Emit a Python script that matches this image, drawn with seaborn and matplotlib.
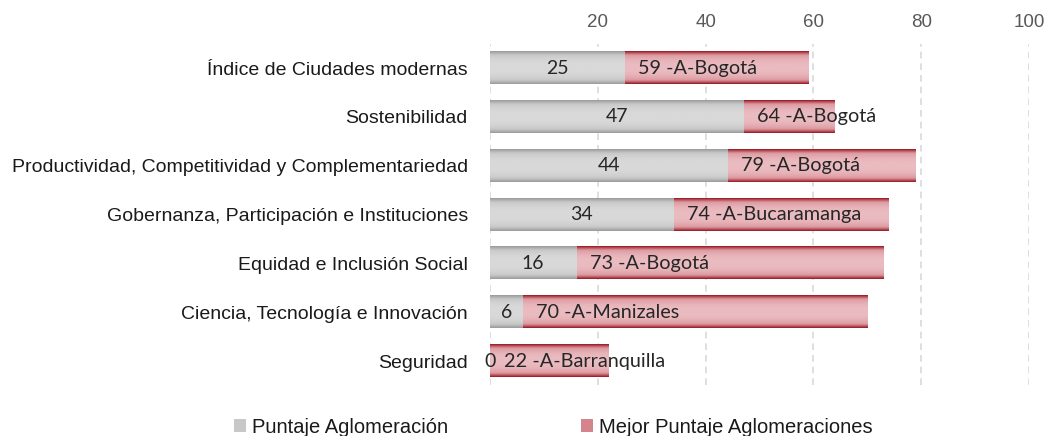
import numpy as np
import pandas as pd
import seaborn as sns
import matplotlib.pyplot as plt
from matplotlib.colors import LinearSegmentedColormap
from matplotlib.patches import Patch

categorias = [
    'Índice de Ciudades modernas',
    'Sostenibilidad',
    'Productividad, Competitividad y Complementariedad',
    'Gobernanza, Participación e Instituciones',
    'Equidad e Inclusión Social',
    'Ciencia, Tecnología e Innovación',
    'Seguridad',
]
puntaje = [25, 47, 44, 34, 16, 6, 0]
mejor = [59, 64, 79, 74, 73, 70, 22]
mejor_ciudad = ['Bogotá', 'Bogotá', 'Bogotá', 'Bucaramanga', 'Bogotá', 'Manizales', 'Barranquilla']
ticks = [0, 20, 40, 60, 80, 100]
tick_labels = ['', '20', '40', '60', '80', '100']

df = pd.DataFrame({'cat': categorias, 'puntaje': puntaje, 'mejor': mejor})

sns.set_style('white')
plt.rcParams['font.family'] = ['Liberation Sans', 'DejaVu Sans']

fig = plt.figure(figsize=(10.6, 4.36), dpi=100)
ax = fig.add_axes([0.4623, 0.116, 0.5085, 0.784])

# red bar goes from 0 to the best score, gray bar sits on top of it
sns.barplot(data=df, x='mejor', y='cat', color='#c0505a', orient='h', width=0.66, ax=ax)
sns.barplot(data=df, x='puntaje', y='cat', color='#c8c8c8', orient='h', width=0.66, ax=ax)

red_cmap = LinearSegmentedColormap.from_list('r', ['#eabbc0', '#dc9aa1', '#9a1821'])
gray_cmap = LinearSegmentedColormap.from_list('g', ['#d9d9d9', '#c9c9c9', '#9a9a9a'])
v = np.linspace(0, 1, 64)
prof = (np.abs(2 * v - 1) ** 2.5).reshape(-1, 1)

n = len(categorias)
for i, p in enumerate(ax.patches):
    x, y, w, h = p.get_x(), p.get_y(), p.get_width(), p.get_height()
    if w <= 0:
        continue
    cmap = red_cmap if i < n else gray_cmap
    p.set_facecolor('none')
    p.set_edgecolor('none')
    ax.imshow(prof, cmap=cmap, vmin=0, vmax=1, aspect='auto',
              extent=[x, x + w, y + h, y], zorder=2 + (i >= n), interpolation='bilinear')

ax.set_xlim(0, 100)
ax.set_ylim(n - 0.5, -0.5)

for i in range(n):
    ax.text(puntaje[i] / 2, i, str(puntaje[i]), ha='center', va='center',
            fontsize=14, family='Lato', color='#262626', zorder=5)
    ax.text(puntaje[i] + 2.5, i, f'{mejor[i]} -A-{mejor_ciudad[i]}', ha='left', va='center',
            fontsize=14.3, family='Lato', color='#262626', zorder=5)

ax.xaxis.tick_top()
ax.set_xticks(ticks)
ax.set_xticklabels(tick_labels)
ax.tick_params(axis='x', length=0, pad=9, labelsize=13.5, labelcolor='#595959')
ax.tick_params(axis='y', length=0, pad=16, labelsize=14, labelcolor='#1a1a1a')
ax.grid(axis='x', color='#d9d9d9', linestyle=(0, (4, 3)), linewidth=1.2)
ax.set_axisbelow(True)
ax.set_xlabel('')
ax.set_ylabel('')
for s in ax.spines.values():
    s.set_visible(False)

handles = [Patch(facecolor='#c8c8c8', edgecolor='none'),
           Patch(facecolor='#d4848d', edgecolor='none')]
fig.legend(handles, ['Puntaje Aglomeración', 'Mejor Puntaje Aglomeraciones'],
           loc='center', bbox_to_anchor=(0.522, 0.02), ncol=2, frameon=False,
           fontsize=14.5, handlelength=0.6, handleheight=0.6, handletextpad=0.3,
           columnspacing=6.6, labelcolor='#1a1a1a')

fig.savefig('out.png', dpi=100)
